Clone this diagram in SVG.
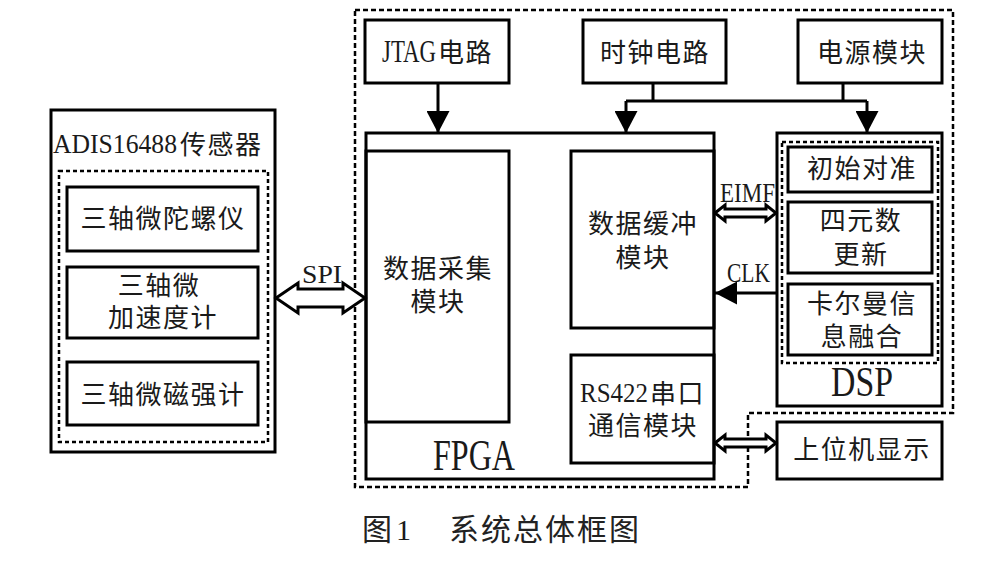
<svg xmlns="http://www.w3.org/2000/svg" width="985" height="561" viewBox="0 0 985 561">
<style>
.box{fill:none;stroke:#000;stroke-width:3}
.dash{fill:none;stroke:#000;stroke-width:2.5;stroke-dasharray:5 3}
.dash2{fill:none;stroke:#000;stroke-width:2.5;stroke-dasharray:4 3}
.ln{fill:none;stroke:#000;stroke-width:3}
.harrow{fill:#fff;stroke:#000;stroke-width:3;stroke-linejoin:miter}
.cjk{font-family:"Noto Sans CJK SC","Noto Sans",sans-serif;font-size:26px;letter-spacing:1.5px;fill:#1a1a1a}
.c{text-anchor:middle}
.lat{font-family:"Liberation Serif",serif;fill:#1a1a1a;letter-spacing:0}
.cap{font-family:"Noto Sans CJK SC",sans-serif;font-size:30px;fill:#222}
</style>
<defs>
<marker id="ah" viewBox="0 0 22 23" refX="22" refY="11.5" markerWidth="22" markerHeight="23" markerUnits="userSpaceOnUse" orient="auto">
<path d="M0,0 L22,11.5 L0,23 Z" fill="#000"/>
</marker>
</defs>
<rect width="985" height="561" fill="#fff"/>

<g id="outer-dashed">
<path class="dash" d="M355,10 H953 V413 H748 V487 H355 Z"/>
</g>

<g id="adis">
<rect class="box" x="51" y="110" width="224" height="342"/>
<text class="cjk" x="53" y="153"><tspan class="lat" font-size="28" textLength="124" lengthAdjust="spacingAndGlyphs">ADIS16488</tspan><tspan x="180" y="154">传感器</tspan></text>
<rect class="dash2" x="59" y="171" width="209" height="271"/>
</g>
<g id="gyro">
<rect class="box" x="67" y="187" width="191" height="64"/>
<text class="cjk c" x="163" y="228">三轴微陀螺仪</text>
</g>
<g id="accel">
<rect class="box" x="67" y="267" width="191" height="71"/>
<text class="cjk c"><tspan x="159" y="295">三轴微</tspan><tspan x="163" y="327">加速度计</tspan></text>
</g>
<g id="mag">
<rect class="box" x="67" y="362" width="191" height="63"/>
<text class="cjk c" x="163" y="404">三轴微磁强计</text>
</g>

<g id="jtag">
<rect class="box" x="365" y="20" width="144" height="63"/>
<text class="cjk" x="382" y="62"><tspan class="lat" font-size="32" textLength="54" lengthAdjust="spacingAndGlyphs">JTAG</tspan><tspan x="438">电路</tspan></text>
</g>
<g id="clock">
<rect class="box" x="583" y="20" width="143" height="63"/>
<text class="cjk c" x="655" y="62">时钟电路</text>
</g>
<g id="power">
<rect class="box" x="798" y="20" width="144" height="63"/>
<text class="cjk c" x="872" y="62">电源模块</text>
</g>

<g id="fpga">
<rect class="box" x="366" y="133" width="348" height="346"/>
<text class="lat" x="433" y="470" font-size="45" textLength="82" lengthAdjust="spacingAndGlyphs">FPGA</text>
</g>
<g id="acq">
<rect class="box" x="366" y="151" width="143" height="271"/>
<text class="cjk c"><tspan x="438" y="278">数据采集</tspan><tspan x="438" y="311">模块</tspan></text>
</g>
<g id="buffer">
<rect class="box" x="571" y="151" width="143" height="177"/>
<text class="cjk c"><tspan x="643" y="233">数据缓冲</tspan><tspan x="643" y="267">模块</tspan></text>
</g>
<g id="rs422">
<rect class="box" x="571" y="355" width="143" height="108"/>
<text class="cjk"><tspan class="lat" x="580" y="402" font-size="28" textLength="68" lengthAdjust="spacingAndGlyphs">RS422</tspan><tspan x="650" y="403">串口</tspan><tspan x="588" y="435">通信模块</tspan></text>
</g>

<g id="dsp">
<rect class="box" x="777" y="133" width="165" height="273"/>
<rect class="dash2" x="782" y="142" width="156" height="221"/>
<text class="lat" x="831" y="396" font-size="42" textLength="62" lengthAdjust="spacingAndGlyphs">DSP</text>
</g>
<g id="align">
<rect class="box" x="788" y="147" width="144" height="45"/>
<text class="cjk c" x="862" y="178">初始对准</text>
</g>
<g id="quat">
<rect class="box" x="788" y="202" width="144" height="71"/>
<text class="cjk c"><tspan x="861" y="230">四元数</tspan><tspan x="861" y="264">更新</tspan></text>
</g>
<g id="kalman">
<rect class="box" x="788" y="284" width="144" height="71"/>
<text class="cjk c"><tspan x="862" y="313">卡尔曼信</tspan><tspan x="862" y="346">息融合</tspan></text>
</g>
<g id="host">
<rect class="box" x="777" y="422" width="165" height="57"/>
<text class="cjk c" x="862" y="459">上位机显示</text>
</g>

<g id="connectors">
<line class="ln" x1="438" y1="83" x2="438" y2="133" marker-end="url(#ah)"/>
<polyline class="ln" points="653,83 653,101"/>
<polyline class="ln" points="843,83 843,101"/>
<polyline class="ln" points="626,101 867,101"/>
<line class="ln" x1="626" y1="101" x2="626" y2="133" marker-end="url(#ah)"/>
<line class="ln" x1="867" y1="101" x2="867" y2="133" marker-end="url(#ah)"/>
<path class="harrow" d="M276,298 L298,283 L298,289 L343,289 L343,283 L365,298 L343,313 L343,307 L298,307 L298,313 Z"/>
<path class="harrow" d="M715,213 L725,205 L725,209 L766,209 L766,205 L776,213 L766,221 L766,217 L725,217 L725,221 Z"/>
<path class="harrow" d="M715,443 L725,435 L725,439 L766,439 L766,435 L776,443 L766,451 L766,447 L725,447 L725,451 Z"/>
<line class="ln" x1="777" y1="293" x2="715" y2="293" marker-end="url(#ah)"/>
<text class="lat" x="302" y="283" font-size="26" textLength="40" lengthAdjust="spacingAndGlyphs">SPI</text>
<text class="lat" x="720" y="202" font-size="27" textLength="55" lengthAdjust="spacingAndGlyphs">EIMF</text>
<text class="lat" x="727" y="282" font-size="27" textLength="43" lengthAdjust="spacingAndGlyphs">CLK</text>
</g>

<g id="caption">
<text class="cap" x="362" y="540">图<tspan class="lat" x="396" font-size="30">1</tspan><tspan x="449" letter-spacing="2">系统总体框图</tspan></text>
</g>
</svg>
